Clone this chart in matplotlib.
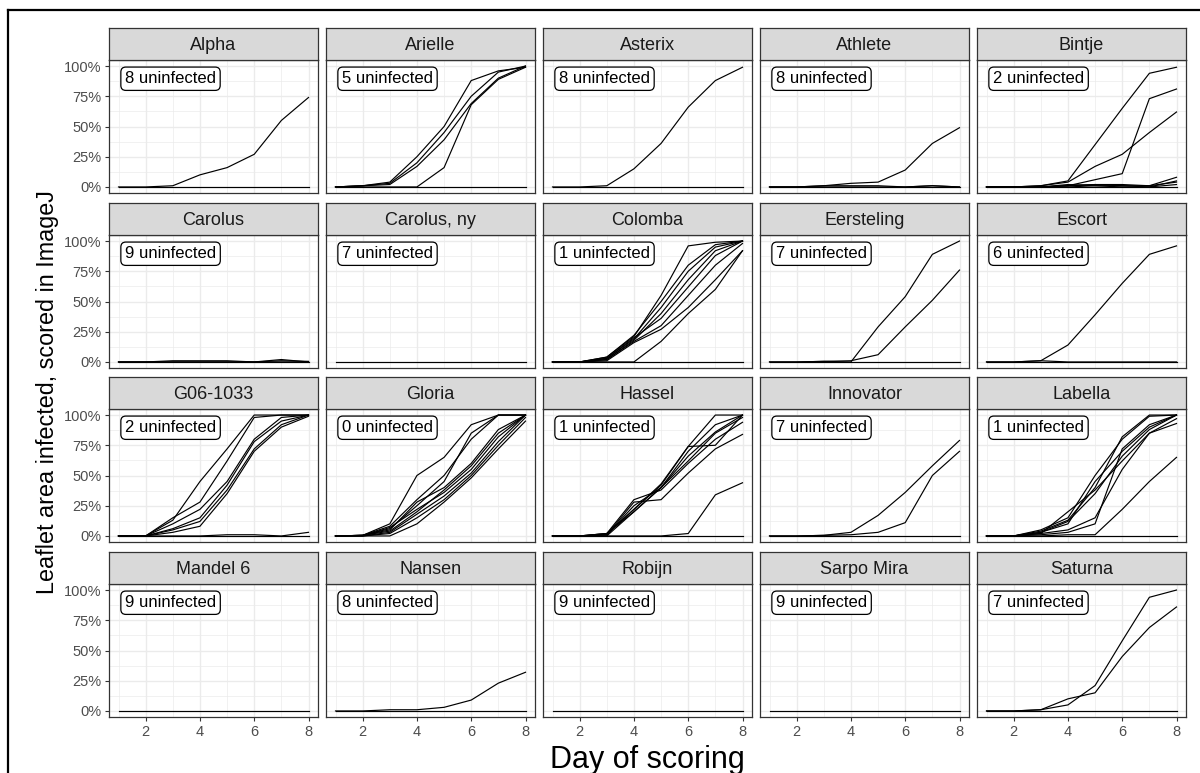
import matplotlib.pyplot as plt
from matplotlib.lines import Line2D
from matplotlib.ticker import FixedLocator

plt.rcParams["font.family"] = ["Liberation Sans", "DejaVu Sans"]

days = [1, 2, 3, 4, 5, 6, 7, 8]
varieties = [
    "Alpha", "Arielle", "Asterix", "Athlete", "Bintje",
    "Carolus", "Carolus, ny", "Colomba", "Eersteling", "Escort",
    "G06-1033", "Gloria", "Hassel", "Innovator", "Labella",
    "Mandel 6", "Nansen", "Robijn", "Sarpo Mira", "Saturna",
]
uninfected = [8, 5, 8, 8, 2, 9, 7, 1, 7, 6, 2, 0, 1, 7, 1, 9, 8, 9, 9, 7]

zero = [0, 0, 0, 0, 0, 0, 0, 0]

# percent of leaflet area infected, one list per leaflet, days 1..8
leaflets = {
    "Alpha": [zero, [0, 0, 1, 10, 16, 27, 55, 74]],
    "Arielle": [zero,
                [0, 1, 4, 25, 50, 88, 96, 99],
                [0, 1, 3, 20, 45, 75, 95, 100],
                [0, 1, 2, 17, 39, 69, 90, 100],
                [0, 0, 0, 0, 16, 68, 89, 99]],
    "Asterix": [zero, [0, 0, 1, 15, 36, 66, 88, 99]],
    "Athlete": [zero,
                [0, 0, 1, 3, 4, 14, 36, 49],
                [0, 0, 1, 1, 1, 0, 1, 0],
                [0, 0, 0, 0, 0, 0, 1, 0]],
    "Bintje": [zero,
               [0, 0, 1, 5, 35, 65, 94, 99],
               [0, 0, 1, 4, 17, 27, 45, 62],
               [0, 0, 0, 1, 6, 11, 73, 81],
               [0, 0, 0, 1, 2, 1, 1, 8],
               [0, 0, 0, 0, 1, 1, 0, 5],
               [0, 0, 0, 2, 1, 0, 0, 2],
               [0, 0, 0, 1, 2, 2, 1, 4]],
    "Carolus": [zero,
                [0, 0, 1, 1, 1, 0, 0, 0],
                [0, 0, 0, 0, 0, 0, 2, 0],
                [0, 0, 0, 0, 0, 0, 1, 0.5]],
    "Carolus, ny": [zero],
    "Colomba": [zero,
                [0, 0, 4, 21, 55, 96, 99, 100],
                [0, 0, 3, 19, 45, 75, 95, 100],
                [0, 0, 2, 18, 40, 68, 92, 100],
                [0, 0, 3, 20, 36, 62, 88, 100],
                [0, 0, 2, 17, 30, 55, 80, 98],
                [0, 0, 1, 16, 27, 45, 68, 92],
                [0, 0, 4, 22, 50, 80, 97, 100],
                [0, 0, 0, 0, 17, 40, 60, 92]],
    "Eersteling": [zero,
                   [0, 0, 0.5, 0, 29, 54, 89, 100],
                   [0, 0, 0.5, 1, 6, 29, 51, 76]],
    "Escort": [zero,
               [0, 0, 1, 14, 39, 65, 89, 96],
               [0, 0, 1, 0, 0, 0, 0, 0]],
    "G06-1033": [zero,
                 [0, 0, 13, 45, 72, 100, 100, 100],
                 [0, 0, 15, 28, 62, 98, 100, 100],
                 [0, 0, 10, 22, 45, 80, 98, 100],
                 [0, 0, 6, 15, 42, 78, 95, 100],
                 [0, 0, 5, 12, 38, 72, 92, 100],
                 [0, 0, 3, 8, 35, 70, 90, 99],
                 [0, 0, 0, 0, 1, 1, 0, 3]],
    "Gloria": [[0, 0.5, 10, 50, 65, 92, 100, 100],
               [0, 0.5, 8, 30, 50, 80, 100, 100],
               [0, 0.5, 6, 25, 45, 85, 100, 100],
               [0, 0.5, 5, 28, 40, 60, 88, 100],
               [0, 0, 7, 22, 36, 55, 82, 100],
               [0, 0.5, 4, 20, 38, 58, 85, 100],
               [0, 0, 3, 18, 33, 52, 78, 100],
               [0, 0, 2, 15, 30, 50, 75, 98],
               [0, 0, 0, 10, 28, 48, 72, 95]],
    "Hassel": [zero,
               [0, 0, 0, 0, 0, 2, 34, 44],
               [0, 0, 2, 22, 42, 74, 100, 100],
               [0, 0, 1, 25, 40, 70, 92, 100],
               [0, 0, 2, 20, 40, 66, 86, 100],
               [0, 0, 2, 30, 38, 60, 80, 94],
               [0, 0, 1, 28, 30, 52, 72, 84],
               [0, 0, 1, 22, 43, 74, 75, 100],
               [0, 0, 0, 20, 40, 62, 85, 98]],
    "Innovator": [zero,
                  [0, 0, 0.5, 3, 17, 36, 58, 79],
                  [0, 0, 0.5, 1, 3, 11, 50, 70]],
    "Labella": [zero,
                [0, 0, 0, 1, 1, 22, 45, 65],
                [0, 0, 2, 5, 15, 55, 85, 97],
                [0, 0, 3, 10, 45, 70, 90, 100],
                [0, 0, 5, 15, 50, 80, 99, 100],
                [0, 0, 4, 13, 40, 82, 100, 100],
                [0, 0, 2, 20, 38, 62, 85, 93],
                [0, 0, 1, 3, 10, 72, 92, 100],
                [0, 0, 3, 12, 35, 66, 88, 100]],
    "Mandel 6": [zero],
    "Nansen": [zero, [0, 0, 1, 1, 3, 9, 23, 32]],
    "Robijn": [zero],
    "Sarpo Mira": [zero],
    "Saturna": [zero,
                [0, 0, 1, 5, 21, 58, 94, 100],
                [0, 0, 1, 10, 15, 45, 69, 86]],
}

W, H = 1200, 773
col_left = [109, 326, 543, 760, 977]
row_top = [28, 203, 377, 552]
panel_w, strip_h, panel_h = 209, 32, 133

fig = plt.figure(figsize=(W / 100, H / 100), dpi=100)
fig.patch.set_facecolor("white")

grid_col = "#EBEBEB"
edge_col = "#333333"

for i, name in enumerate(varieties):
    r, c = divmod(i, 5)
    left = col_left[c]
    top = row_top[r]
    ax = fig.add_axes([left / W, 1 - (top + strip_h + panel_h) / H,
                       panel_w / W, panel_h / H])
    sax = fig.add_axes([left / W, 1 - (top + strip_h) / H,
                        panel_w / W, strip_h / H])

    # strip
    sax.set_facecolor("#D9D9D9")
    sax.set_xticks([])
    sax.set_yticks([])
    for sp in sax.spines.values():
        sp.set_color(edge_col)
        sp.set_linewidth(0.9)
    sax.text(0.5, 0.45, name, ha="center", va="center", fontsize=13,
             color="#1A1A1A", transform=sax.transAxes)

    # panel
    for y in leaflets[name]:
        ax.plot(days, y, color="black", lw=0.85, zorder=3)

    ax.set_xlim(0.65, 8.35)
    ax.set_ylim(-5, 105)
    ax.xaxis.set_major_locator(FixedLocator([2, 4, 6, 8]))
    ax.xaxis.set_minor_locator(FixedLocator([1, 3, 5, 7]))
    ax.yaxis.set_major_locator(FixedLocator([0, 25, 50, 75, 100]))
    ax.yaxis.set_minor_locator(FixedLocator([12.5, 37.5, 62.5, 87.5]))
    ax.grid(which="major", color=grid_col, lw=1.0, zorder=0)
    ax.grid(which="minor", color=grid_col, lw=0.5, zorder=0)
    ax.set_axisbelow(True)
    ax.tick_params(which="minor", length=0)
    ax.tick_params(which="major", length=3, width=0.8, color=edge_col,
                   labelsize=10.5, labelcolor="#4D4D4D", pad=2.5)
    for sp in ax.spines.values():
        sp.set_color(edge_col)
        sp.set_linewidth(0.9)

    if c == 0:
        ax.set_yticklabels(["0%", "25%", "50%", "75%", "100%"])
    else:
        ax.tick_params(axis="y", which="major", length=0, labelleft=False)
    if r == 3:
        ax.set_xticklabels(["2", "4", "6", "8"])
    else:
        ax.tick_params(axis="x", which="major", length=0, labelbottom=False)

    ax.text(1.24, 89.5, f"{uninfected[i]} uninfected", ha="left", va="center",
            fontsize=12, color="black", zorder=5,
            bbox=dict(boxstyle="round,pad=0.25,rounding_size=0.3",
                      fc="white", ec="black", lw=0.9))

fig.text(647 / W, 1 - 760 / H, "Day of scoring", ha="center", va="center",
         fontsize=22, color="black")
fig.text(48 / W, 1 - 392 / H, "Leaflet area infected, scored in ImageJ",
         ha="center", va="center", rotation=90, fontsize=16.8, color="black")

# frame of the screenshot
fig.add_artist(Line2D([8 / W, 1], [1 - 10 / H, 1 - 10 / H], color="black",
                      lw=1.6, transform=fig.transFigure))
fig.add_artist(Line2D([8 / W, 8 / W], [0, 1 - 10 / H], color="black",
                      lw=1.6, transform=fig.transFigure))

fig.savefig("out.png", dpi=100)
